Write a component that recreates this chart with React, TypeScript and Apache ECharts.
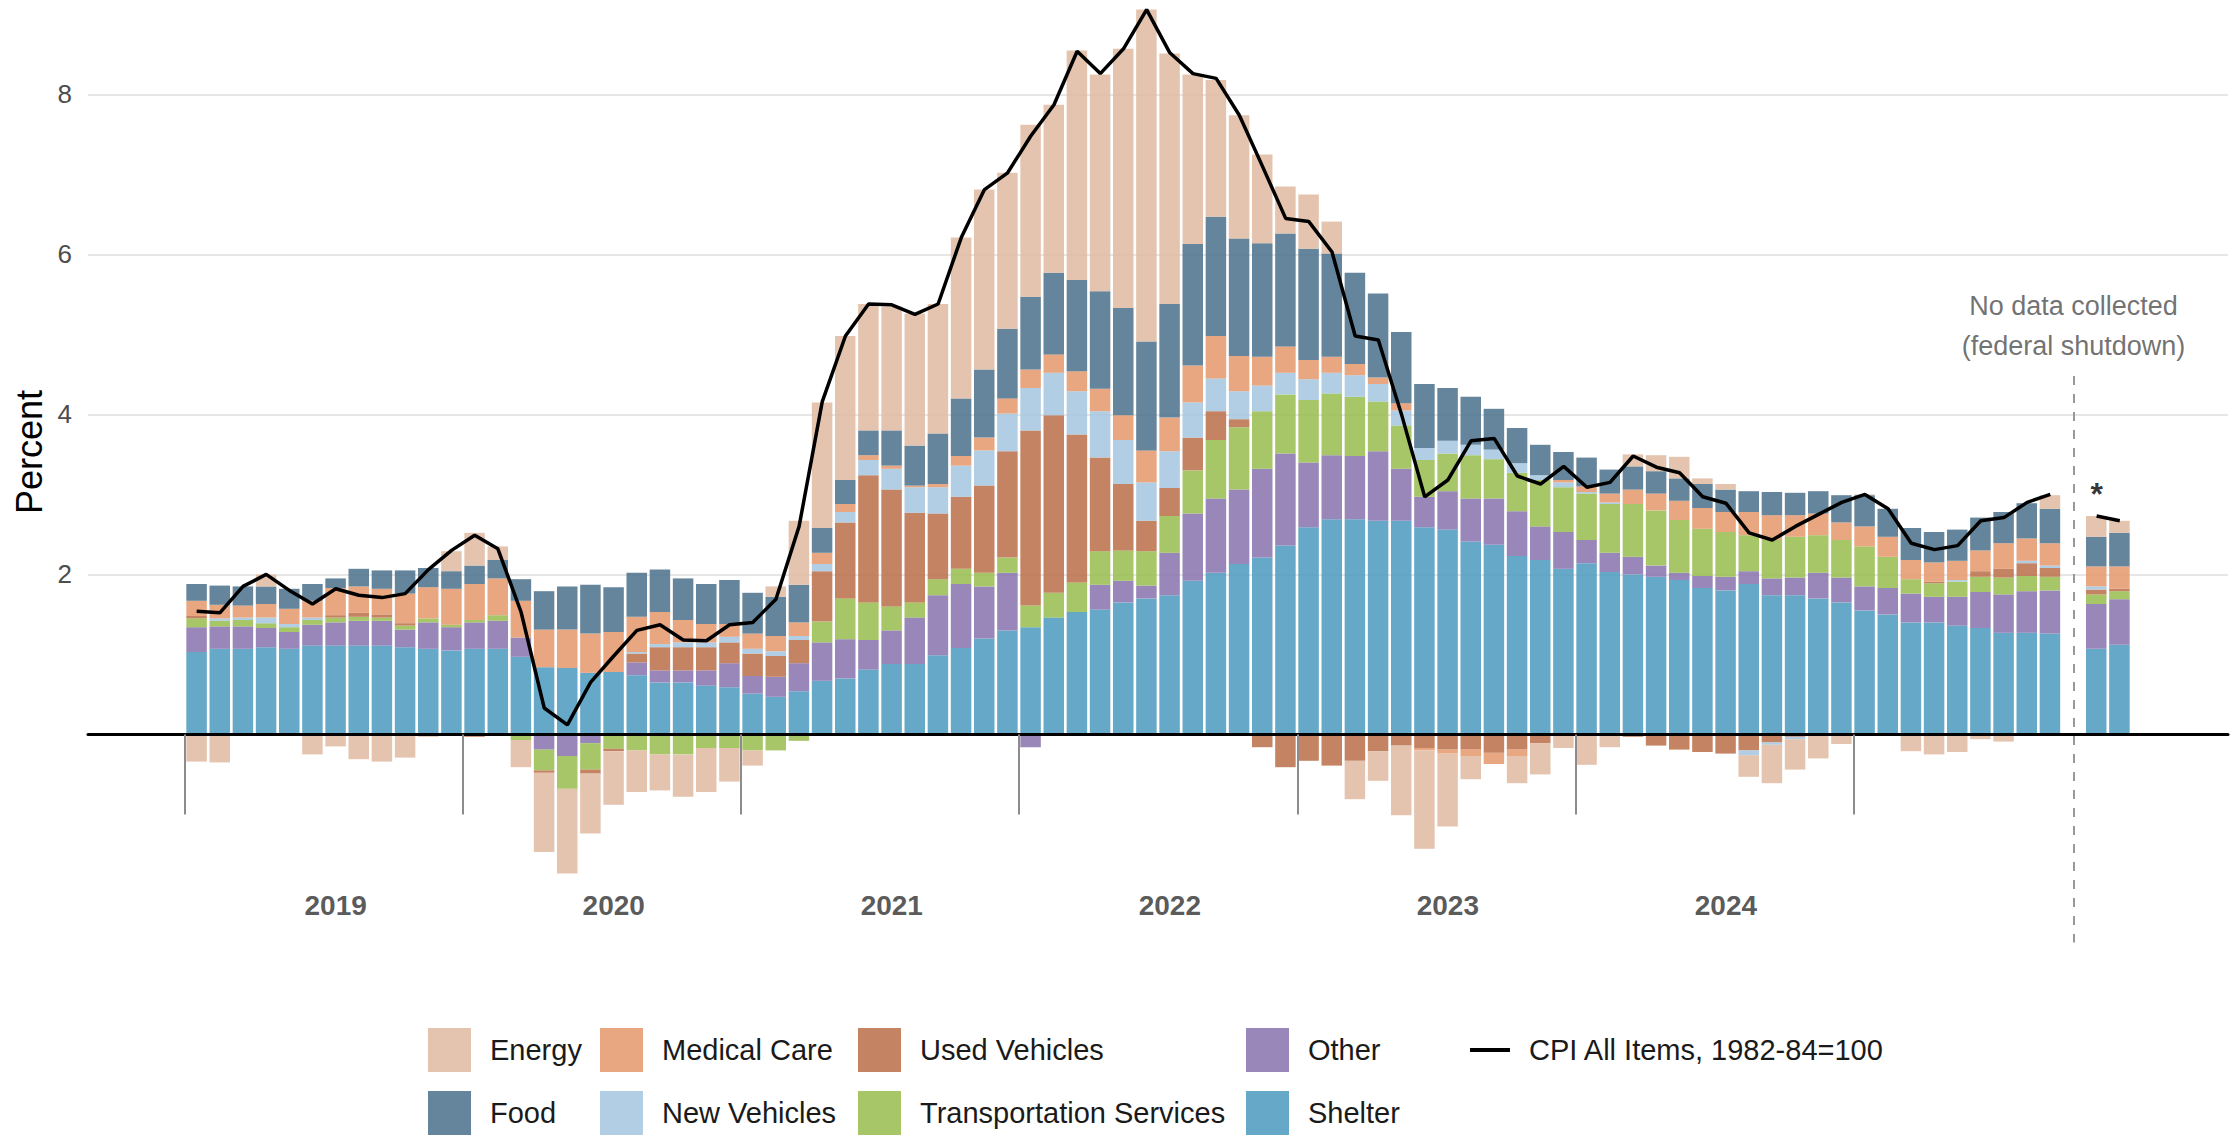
import React, { useEffect, useRef } from 'react';
import * as echarts from 'echarts';

const FONT = '"Liberation Sans", Arial, Helvetica, sans-serif';

// Months: Jan 2019 (index 0) ... Dec 2025 (index 83). Oct 2025 (index 81) not collected.
const months = Array.from({ length: 84 }, (_, i) => `${2019 + Math.floor(i / 12)}-${String((i % 12) + 1).padStart(2, '0')}`);

const shelter = [
  1.03, 1.07, 1.07, 1.09, 1.07, 1.11, 1.11, 1.11, 1.11, 1.09, 1.07, 1.05,
  1.07, 1.07, 0.97, 0.84, 0.83, 0.77, 0.78, 0.74, 0.65, 0.65, 0.61, 0.59,
  0.51, 0.47, 0.54, 0.67, 0.70, 0.81, 0.88, 0.88, 0.99, 1.08, 1.20, 1.30,
  1.34, 1.46, 1.53, 1.56, 1.65, 1.70, 1.74, 1.92, 2.02, 2.13, 2.21, 2.36,
  2.59, 2.69, 2.69, 2.67, 2.67, 2.59, 2.56, 2.41, 2.37, 2.23, 2.18, 2.07,
  2.14, 2.03, 2.00, 1.97, 1.93, 1.83, 1.80, 1.88, 1.74, 1.74, 1.70, 1.65,
  1.55, 1.50, 1.40, 1.40, 1.36, 1.33, 1.27, 1.27, 1.26, null, 1.07, 1.12,
];
const other = [
  0.31, 0.28, 0.28, 0.24, 0.21, 0.26, 0.29, 0.31, 0.31, 0.22, 0.33, 0.29,
  0.33, 0.35, 0.24, -0.19, -0.27, -0.11, 0, 0.16, 0.15, 0.15, 0.19, 0.30,
  0.22, 0.25, 0.35, 0.48, 0.49, 0.37, 0.42, 0.58, 0.75, 0.80, 0.65, 0.72,
  -0.16, 0, 0, 0.31, 0.27, 0.16, 0.53, 0.84, 0.93, 0.93, 1.11, 1.15,
  0.81, 0.80, 0.79, 0.87, 0.65, 0.38, 0.48, 0.54, 0.58, 0.56, 0.42, 0.46,
  0.29, 0.24, 0.22, 0.14, 0.09, 0.15, 0.17, 0.16, 0.21, 0.22, 0.32, 0.31,
  0.30, 0.33, 0.36, 0.32, 0.36, 0.45, 0.48, 0.52, 0.54, null, 0.56, 0.57,
];
const transportation = [
  0.11, 0.07, 0.08, 0.06, 0.06, 0.06, 0.06, 0.05, 0.04, 0.05, 0.05, 0.03,
  0.03, 0.07, -0.07, -0.26, -0.41, -0.33, -0.18, -0.20, -0.25, -0.25, -0.17, -0.17,
  -0.20, -0.20, -0.08, 0.26, 0.51, 0.47, 0.30, 0.19, 0.20, 0.19, 0.17, 0.19,
  0.27, 0.31, 0.37, 0.42, 0.38, 0.43, 0.46, 0.54, 0.73, 0.78, 0.72, 0.74,
  0.78, 0.77, 0.74, 0.62, 0.54, 0.46, 0.47, 0.54, 0.49, 0.48, 0.58, 0.56,
  0.58, 0.61, 0.66, 0.69, 0.66, 0.59, 0.56, 0.45, 0.48, 0.51, 0.47, 0.47,
  0.50, 0.39, 0.18, 0.17, 0.19, 0.19, 0.21, 0.19, 0.17, null, 0.12, 0.10,
];
const usedVehicles = [
  0.03, 0, 0, 0, 0, 0, 0.03, 0.05, 0.04, 0.03, 0, 0,
  -0.03, 0, 0, -0.03, 0, -0.05, -0.03, 0.11, 0.29, 0.29, 0.29, 0.26,
  0.28, 0.26, 0.29, 0.63, 0.95, 1.59, 1.46, 1.12, 0.82, 0.90, 1.09, 1.33,
  2.19, 2.22, 1.85, 1.17, 0.83, 0.38, 0.35, 0.41, 0.36, 0.10, -0.16, -0.41,
  -0.33, -0.39, -0.33, -0.21, -0.14, -0.17, -0.19, -0.19, -0.23, -0.19, -0.11, 0,
  0, 0, -0.03, -0.14, -0.19, -0.22, -0.24, -0.20, -0.10, -0.03, 0, 0,
  0, 0, 0, 0.02, 0, 0.07, 0.11, 0.16, 0.11, null, 0.06, 0.03,
];
const newVehicles = [
  0, 0.03, 0.03, 0.07, 0.04, 0.03, 0, 0, 0, 0, 0, 0,
  0, 0, 0, 0, 0, 0, 0, 0.02, 0.04, 0.06, 0.06, 0.07,
  0.06, 0.06, 0.05, 0.09, 0.13, 0.19, 0.26, 0.32, 0.33, 0.39, 0.44, 0.47,
  0.53, 0.53, 0.54, 0.58, 0.55, 0.48, 0.46, 0.44, 0.41, 0.35, 0.32, 0.27,
  0.26, 0.26, 0.27, 0.22, 0.19, 0.15, 0.16, 0.13, 0.12, 0.12, 0.06, 0.06,
  0.02, 0.02, 0, 0, 0, 0, 0, -0.06, -0.03, -0.03, 0, 0,
  0, 0, 0, 0, 0.02, 0, 0, 0.03, 0.03, null, 0.04, 0,
];
const medicalCare = [
  0.19, 0.17, 0.15, 0.17, 0.19, 0.21, 0.34, 0.33, 0.32, 0.37, 0.39, 0.45,
  0.45, 0.46, 0.46, 0.47, 0.48, 0.49, 0.50, 0.44, 0.40, 0.28, 0.23, 0.16,
  0.19, 0.19, 0.17, 0.14, 0.10, 0.06, 0.04, 0.02, 0.04, 0.12, 0.16, 0.19,
  0.23, 0.23, 0.25, 0.28, 0.31, 0.40, 0.42, 0.46, 0.53, 0.44, 0.36, 0.33,
  0.24, 0.20, 0.14, 0.08, 0.09, -0.03, -0.05, -0.08, -0.14, -0.08, 0, 0.03,
  0.07, 0.11, 0.18, 0.21, 0.24, 0.26, 0.25, 0.29, 0.31, 0.27, 0.27, 0.22,
  0.25, 0.25, 0.24, 0.24, 0.24, 0.26, 0.32, 0.28, 0.28, null, 0.25, 0.28,
];
const food = [
  0.21, 0.24, 0.24, 0.22, 0.25, 0.21, 0.12, 0.22, 0.23, 0.29, 0.24, 0.22,
  0.23, 0.23, 0.27, 0.48, 0.54, 0.61, 0.56, 0.55, 0.53, 0.52, 0.50, 0.55,
  0.51, 0.49, 0.47, 0.31, 0.30, 0.31, 0.44, 0.50, 0.63, 0.72, 0.85, 0.87,
  0.91, 1.02, 1.14, 1.22, 1.34, 1.36, 1.42, 1.52, 1.49, 1.47, 1.42, 1.41,
  1.39, 1.29, 1.14, 1.05, 0.89, 0.80, 0.66, 0.60, 0.51, 0.44, 0.38, 0.35,
  0.36, 0.30, 0.29, 0.28, 0.28, 0.30, 0.28, 0.26, 0.29, 0.28, 0.28, 0.34,
  0.39, 0.35, 0.40, 0.38, 0.39, 0.41, 0.39, 0.44, 0.43, null, 0.37, 0.42,
];
const energy = [
  -0.34, -0.35, 0, 0.15, -0.02, -0.25, -0.15, -0.31, -0.34, -0.29, -0.03, 0.25,
  0.41, 0.17, -0.34, -0.99, -1.06, -0.75, -0.67, -0.52, -0.45, -0.53, -0.55, -0.42,
  -0.19, 0.13, 0.80, 1.57, 1.80, 1.58, 1.55, 1.65, 1.62, 2.01, 2.25, 1.95,
  2.15, 2.10, 2.87, 2.71, 3.24, 4.15, 3.13, 2.12, 1.71, 1.54, 1.11, 0.59,
  0.68, 0.40, -0.48, -0.37, -0.87, -1.23, -0.91, -0.29, 0, -0.34, -0.39, -0.17,
  -0.38, -0.16, 0.15, 0.20, 0.27, 0.07, 0.07, -0.27, -0.48, -0.38, -0.30, -0.12,
  0.01, 0, -0.21, -0.25, -0.22, -0.06, -0.09, 0, 0.17, null, 0.26, 0.15,
];
const cpiAllItems = [
  1.54, 1.52, 1.85, 2.0, 1.8, 1.63, 1.82, 1.74, 1.71, 1.76, 2.06, 2.30,
  2.49, 2.32, 1.53, 0.33, 0.12, 0.65, 0.98, 1.30, 1.37, 1.18, 1.17, 1.37,
  1.40, 1.69, 2.60, 4.16, 4.98, 5.38, 5.37, 5.25, 5.38, 6.21, 6.81, 7.02,
  7.48, 7.87, 8.54, 8.26, 8.57, 9.06, 8.52, 8.26, 8.20, 7.74, 7.10, 6.45,
  6.41, 6.03, 4.98, 4.93, 4.00, 2.97, 3.18, 3.67, 3.70, 3.23, 3.13, 3.35,
  3.09, 3.15, 3.48, 3.34, 3.27, 2.97, 2.89, 2.52, 2.43, 2.60, 2.75, 2.90,
  3.00, 2.82, 2.39, 2.31, 2.36, 2.67, 2.71, 2.90, 3.00, null, 2.73, 2.67,
];

const yTicks = [2, 4, 6, 8];
const years = [2019, 2020, 2021, 2022, 2023, 2024];
const yearBoundaryTicks = [-0.5, 11.5, 23.5, 35.5, 47.5, 59.5, 71.5];
const shutdownMonth = 81;
const asteriskMonth = 82;

const componentSeries = [
  { name: 'Shelter', data: shelter, color: '#519cc0' },
  { name: 'Other', data: other, color: '#8c76b1' },
  { name: 'Transportation Services', data: transportation, color: '#9abe53' },
  { name: 'Used Vehicles', data: usedVehicles, color: '#bc734d' },
  { name: 'New Vehicles', data: newVehicles, color: '#a7c7e0' },
  { name: 'Medical Care', data: medicalCare, color: '#e59a6f' },
  { name: 'Food', data: food, color: '#4e748d' },
  { name: 'Energy', data: energy, color: '#e0bca3' },
];

const Y_MIN = -2.6;
const Y_MAX = 9.18;

export default function App() {
  const ref = useRef<HTMLDivElement>(null);

  useEffect(() => {
    if (!ref.current) return;
    const chart = echarts.init(ref.current, null, { renderer: 'svg' });
    const toXY = (arr: (number | null)[]) => arr.map((v, i) => [i, v]);

    const barSeries: any[] = componentSeries.map((s) => ({
      name: s.name,
      type: 'bar',
      xAxisIndex: 0,
      yAxisIndex: 0,
      stack: 'contrib',
      data: s.data.map((v) => (v === null ? '-' : v)),
      barWidth: 20.5,
      itemStyle: { color: s.color, opacity: 0.88 },
      emphasis: { disabled: true },
      silent: true,
      z: 3,
    }));

    const legendBase: any = {
      orient: 'vertical',
      top: 1028,
      icon: 'rect',
      itemWidth: 43,
      itemHeight: 44,
      itemGap: 19,
      padding: 0,
      selectedMode: false,
      textStyle: {
        fontSize: 29,
        color: '#1a1a1a',
        fontFamily: FONT,
        lineHeight: 44,
        padding: [0, 0, 0, 14],
      },
    };

    const option: any = {
      animation: false,
      grid: [
        { left: 185, right: 105, top: 0, height: 942.4, outerBoundsMode: 'none' },
        { left: 88, right: 8, top: 0, height: 942.4, outerBoundsMode: 'none' },
      ],
      xAxis: [
        {
          type: 'category',
          gridIndex: 0,
          data: months,
          boundaryGap: true,
          show: false,
        },
        {
          type: 'value',
          gridIndex: 1,
          min: -4.69,
          max: 87.67,
          z: 5,
          splitLine: { show: false },
          axisLine: { show: true, onZero: true, lineStyle: { color: '#000', width: 3 } },
          axisTick: {
            show: true,
            customValues: yearBoundaryTicks,
            length: 80,
            lineStyle: { color: '#8c8c8c', width: 2 },
          },
          axisLabel: { show: false },
        },
      ],
      yAxis: [
        {
          type: 'value',
          gridIndex: 0,
          min: Y_MIN,
          max: Y_MAX,
          show: false,
          splitLine: { show: false },
        },
        {
          type: 'value',
          gridIndex: 1,
          min: Y_MIN,
          max: Y_MAX,
          axisLine: { show: false },
          axisTick: { show: false },
          splitLine: { show: false },
          axisLabel: {
            customValues: yTicks,
            fontSize: 26,
            color: '#4d4d4d',
            margin: 16,
            fontFamily: FONT,
          },
        },
      ],
      legend: [
        { ...legendBase, left: 428, data: ['Energy', 'Food'] },
        { ...legendBase, left: 600, data: ['Medical Care', 'New Vehicles'] },
        { ...legendBase, left: 858, data: ['Used Vehicles', 'Transportation Services'] },
        { ...legendBase, left: 1246, data: ['Other', 'Shelter'] },
        {
          ...legendBase,
          left: 1470,
          itemWidth: 40,
          itemHeight: 4,
          data: [{ name: 'CPI All Items, 1982-84=100', icon: 'rect' }],
        },
      ],
      graphic: [
        {
          type: 'text',
          x: 29,
          y: 452,
          rotation: Math.PI / 2,
          silent: true,
          style: {
            text: 'Percent',
            fontSize: 36,
            fontFamily: FONT,
            fill: '#000',
            align: 'center',
            verticalAlign: 'middle',
          },
        },
      ],
      series: [
        ...barSeries,
        {
          name: 'CPI All Items, 1982-84=100',
          type: 'line',
          xAxisIndex: 1,
          yAxisIndex: 1,
          data: toXY(cpiAllItems),
          symbol: 'none',
          connectNulls: false,
          lineStyle: { color: '#000', width: 3.5 },
          itemStyle: { color: '#000' },
          emphasis: { disabled: true },
          silent: true,
          z: 6,
          markLine: {
            silent: true,
            symbol: 'none',
            z: 1,
            label: { show: false },
            emphasis: { disabled: true },
            lineStyle: { color: '#e6e6e6', width: 2, type: 'solid' },
            data: yTicks.map((v) => ({ yAxis: v })),
          },
        },
        {
          name: 'year-labels',
          type: 'scatter',
          xAxisIndex: 1,
          yAxisIndex: 1,
          data: years.map((_, i) => [6 + 12 * i, -2.14]),
          symbolSize: 0,
          silent: true,
          z: 6,
          label: {
            show: true,
            position: 'inside',
            formatter: (p: any) => String(years[p.dataIndex]),
            fontSize: 28,
            fontWeight: 'bold',
            color: '#2e2e2e',
            fontFamily: FONT,
          },
        },
        {
          name: 'shutdown-note',
          type: 'scatter',
          xAxisIndex: 1,
          yAxisIndex: 1,
          data: [[shutdownMonth, 5.1]],
          symbolSize: 0,
          silent: true,
          z: 6,
          label: {
            show: true,
            position: 'inside',
            formatter: 'No data collected\n(federal shutdown)',
            fontSize: 27,
            lineHeight: 40,
            color: '#4d4d4d',
            fontFamily: FONT,
          },
          markLine: {
            silent: true,
            symbol: 'none',
            label: { show: false },
            emphasis: { disabled: true },
            lineStyle: { color: '#999999', width: 2, type: [9, 9] },
            data: [[{ coord: [shutdownMonth, 4.48] }, { coord: [shutdownMonth, Y_MIN] }]],
          },
        },
        {
          name: 'asterisk',
          type: 'scatter',
          xAxisIndex: 1,
          yAxisIndex: 1,
          data: [[asteriskMonth, 3.0]],
          symbolSize: 0,
          silent: true,
          z: 6,
          label: {
            show: true,
            position: 'inside',
            formatter: '*',
            fontSize: 32,
            fontWeight: 'bold',
            color: '#000',
            fontFamily: FONT,
          },
        },
      ],
    };

    chart.setOption(option);
    return () => chart.dispose();
  }, []);

  return (
    <div
      ref={ref}
      style={{ position: 'fixed', left: 0, top: 0, width: 2236, height: 1136, background: '#fff' }}
    />
  );
}
